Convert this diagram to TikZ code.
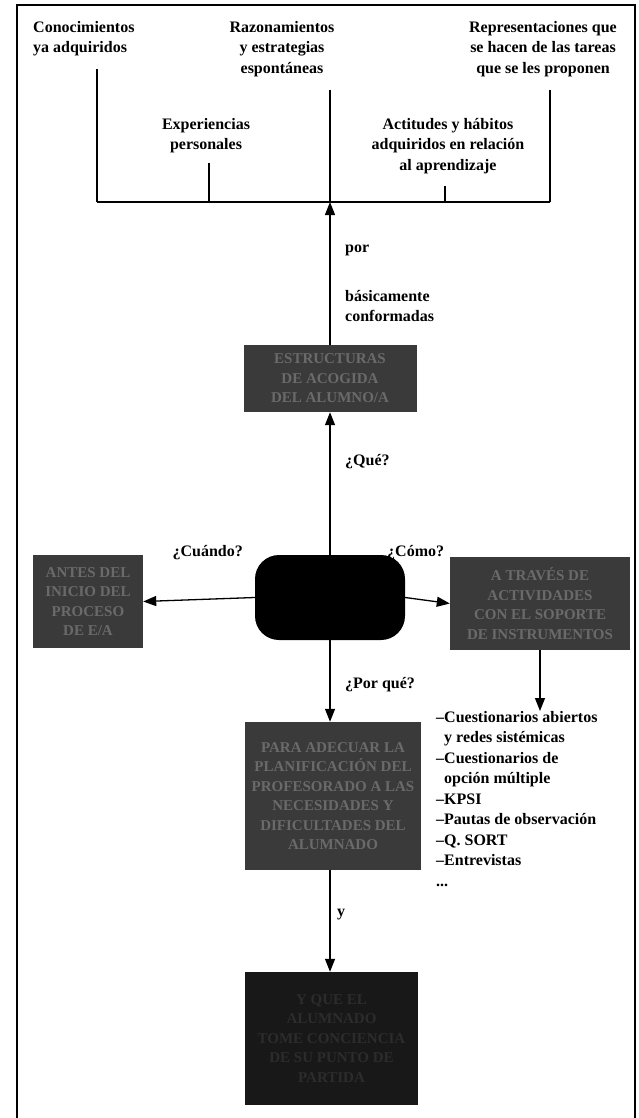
\documentclass[tikz,border=0pt]{standalone}
\usepackage{fontspec}
\setmainfont{Liberation Serif}
\usetikzlibrary{arrows.meta}
\definecolor{boxfill}{HTML}{3A3A3A}
\definecolor{boxtext}{HTML}{6A6A6A}
\definecolor{deepfill}{HTML}{181818}
\definecolor{deeptext}{HTML}{2C2C2C}
\begin{document}
\begin{tikzpicture}[x=1pt,y=-1pt,
  lbl/.style={font=\bfseries\fontsize{16}{20.5}\selectfont, align=center, inner sep=0pt},
  dbox/.style={fill=boxfill, text=boxtext, font=\bfseries\fontsize{15}{19.5}\selectfont, align=center, inner sep=0pt},
  link/.style={line width=1.3pt},
  arr/.style={line width=1.3pt, -{Triangle[width=10pt,length=13pt]}},
  frame/.style={line width=1.2pt}
]
\useasboundingbox (0,0) rectangle (639,1118);
% page frame
\draw[frame] (17,1118) -- (17,5) -- (635,5) -- (635,1118);

% factors that shape the structures
\node[lbl, align=left, anchor=north west] (con) at (33,21) {Conocimientos\\ya adquiridos};
\node[lbl, anchor=north] (raz) at (282,21) {Razonamientos\\y estrategias\\espontáneas};
\node[lbl, anchor=north] (rep) at (543,21) {Representaciones que\\se hacen de las tareas\\que se les proponen};
\node[lbl, anchor=north] (exp) at (206,118) {Experiencias\\personales};
\node[lbl, anchor=north] (act) at (448,118) {Actitudes y hábitos\\adquiridos en relación\\al aprendizaje};

% collecting bar
\coordinate (j1) at (97,202);
\coordinate (j2) at (209,202);
\coordinate (jc) at (330,202);
\coordinate (j4) at (445,202);
\coordinate (j5) at (550,202);
\draw[link] (j1) -- (j5);
\draw[link] ([yshift=-13pt]con.south -| j1) -- (j1);
\draw[link] ([yshift=-10pt]exp.south -| j2) -- (j2);
\draw[link] ([yshift=-13pt]raz.south -| jc) -- (jc);
\draw[link] ([yshift=-12pt]act.south -| j4) -- (j4);
\draw[link] ([yshift=-13pt]rep.south -| j5) -- (j5);

% boxes
\node[dbox, minimum width=173pt, minimum height=67pt] (est) at (330,378.5) {ESTRUCTURAS\\DE ACOGIDA\\DEL ALUMNO/A};
\node[fill=black, rounded corners=24pt, minimum width=150pt, minimum height=85pt, inner sep=0pt] (ev) at (330,597.5) {};
\node[dbox, minimum width=110pt, minimum height=93pt] (ant) at (88,601.5) {ANTES DEL\\INICIO DEL\\PROCESO\\DE E/A};
\node[dbox, minimum width=180pt, minimum height=93pt] (tra) at (540,603.5) {A TRAVÉS DE\\ACTIVIDADES\\CON EL SOPORTE\\DE INSTRUMENTOS};
\node[dbox, minimum width=176pt, minimum height=148pt] (par) at (333,796) {PARA ADECUAR LA\\PLANIFICACIÓN DEL\\PROFESORADO A LAS\\NECESIDADES Y\\DIFICULTADES DEL\\ALUMNADO};
\node[dbox, fill=deepfill, text=deeptext, minimum width=173pt, minimum height=133pt] (ptd) at (331.5,1038.5) {Y QUE EL\\ALUMNADO\\TOME CONCIENCIA\\DE SU PUNTO DE\\PARTIDA};

% list of instruments
\node[lbl, align=left, anchor=north west] (ins) at (436,711) {--Cuestionarios abiertos\\\hphantom{--}y redes sistémicas\\--Cuestionarios de\\\hphantom{--}opción múltiple\\--KPSI\\--Pautas de observación\\--Q. SORT\\--Entrevistas\\...};

% connectors
\draw[arr] (est.north -| jc) -- (jc);
\draw[arr] (ev.north -| jc) -- (est.south -| jc);
\draw[arr] (ev.west) -- (ant.east);
\draw[arr] (ev.east) -- (tra.west);
\draw[arr] (ev.south -| jc) -- (par.north -| jc);
\draw[arr] (par.south -| jc) -- (ptd.north -| jc);
\draw[arr] (tra.south) -- (ins.north -| tra.south);

% connector labels
\node[lbl, anchor=west] (lpor) at (345,250) {por};
\node[lbl, align=left, anchor=north west] (lbas) at (345,290) {básicamente\\conformadas};
\node[lbl, anchor=west] (lque) at (345,462) {¿Qué?};
\node[lbl, anchor=east] (lcua) at (243,553) {¿Cuándo?};
\node[lbl, anchor=west] (lcom) at (387,553) {¿Cómo?};
\node[lbl, anchor=west] (lpq) at (345,685) {¿Por qué?};
\node[lbl, anchor=west] (ly) at (337,915) {y};
\end{tikzpicture}
\end{document}
